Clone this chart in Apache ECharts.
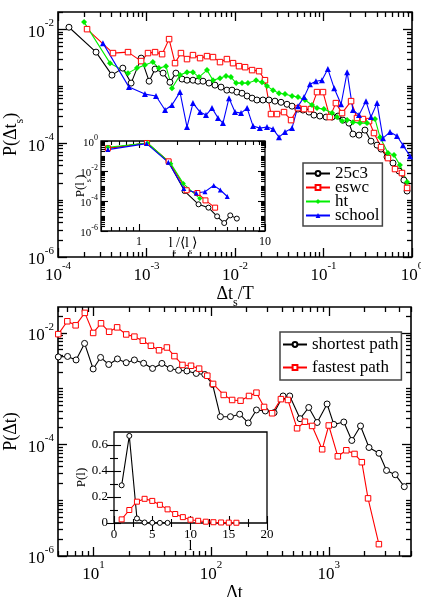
<!DOCTYPE html>
<html>
<head>
<meta charset="UTF-8">
<title>P(Δt)</title>
<script src="https://cdn.jsdelivr.net/npm/echarts@6/dist/echarts.min.js"></script>
<style>
  html, body { margin: 0; padding: 0; background: #fff; }
  #main { width: 421px; height: 597px; }
</style>
</head>
<body>
<div id="main"></div>
<script>
// ---- top panel: P(dt_s) against dt_s/T, pairs [x, y]
var c25c3 = [[1.33e-4,1.08e-2],[2.69e-4,3.95e-3],[4.07e-4,1.56e-3],[5.4e-4,2.07e-3],[6.7e-4,1.13e-3],[8.7e-4,3.1e-3],[1.07e-3,1.22e-3],[1.25e-3,1.99e-3],[1.54e-3,1.69e-3],[1.84e-3,1.17e-3],[2.15e-3,1.69e-3],[2.52e-3,1.33e-3],[2.87e-3,1.27e-3],[3.35e-3,1.27e-3],[3.82e-3,1.22e-3],[4.35e-3,1.22e-3],[5.08e-3,1.13e-3],[5.94e-3,1.04e-3],[6.95e-3,9.6e-4],[8.1e-3,8.5e-4],[9.25e-3,8.5e-4],[1.05e-2,7.85e-4],[1.2e-2,7.5e-4],[1.37e-2,6.7e-4],[1.56e-2,6.15e-4],[1.77e-2,5.7e-4],[2.07e-2,5.7e-4],[2.42e-2,5.7e-4],[2.83e-2,5.45e-4],[3.31e-2,5.2e-4],[3.87e-2,4.8e-4],[4.41e-2,4.45e-4],[5.15e-2,3.95e-4],[5.86e-2,3.8e-4],[6.86e-2,3.5e-4],[7.8e-2,3.1e-4],[9.1e-2,2.98e-4],[0.107,2.86e-4],[0.125,2.86e-4],[0.146,2.98e-4],[0.166,2.53e-4],[0.194,2.24e-4],[0.215,1.44e-4],[0.252,1.38e-4],[0.294,1.69e-4],[0.344,1.08e-4],[0.403,9.2e-5],[0.447,7.85e-5],[0.522,5.7e-5],[0.61,4.46e-5],[0.713,3.23e-5],[0.81,2.24e-5],[0.88,1.44e-5]];
var eswc = [[2.13e-4,1e-2],[4.18e-4,3.8e-3],[6.18e-4,3.95e-3],[8.7e-4,2.75e-3],[1.04e-3,3.8e-3],[1.25e-3,3.95e-3],[1.5e-3,3.64e-3],[1.8e-3,6.68e-3],[2.1e-3,2.53e-3],[2.45e-3,3.8e-3],[2.87e-3,2.98e-3],[3.35e-3,3.5e-3],[4.03e-3,3.1e-3],[4.83e-3,3.36e-3],[5.64e-3,3.23e-3],[6.77e-3,2.64e-3],[8.1e-3,2.98e-3],[9.5e-3,2.53e-3],[1.11e-2,2.24e-3],[1.3e-2,2.15e-3],[1.56e-2,1.91e-3],[1.87e-2,1.83e-3],[2.18e-2,1.27e-3],[2.55e-2,3.23e-4],[2.98e-2,3.23e-4],[3.58e-2,3.5e-4],[4.3e-2,2.53e-4],[5.15e-2,4.11e-4],[6.03e-2,3.95e-4],[7.2e-2,3.95e-4],[8.45e-2,7.85e-4],[9.87e-2,7.85e-4],[0.118,2.86e-4],[0.138,5.03e-4],[0.162,3.36e-4],[0.205,5.45e-4],[0.239,2.75e-4],[0.279,2.64e-4],[0.327,2.43e-4],[0.372,1.5e-4],[0.447,8.5e-5],[0.535,5.45e-5],[0.643,3.5e-5],[0.77,2.98e-5],[0.88,1.63e-5]];
var ht = [[1.97e-4,1.33e-2],[3.87e-4,2.53e-3],[6.18e-4,1.69e-3],[7.8e-4,2.07e-3],[9.6e-4,2.34e-3],[1.18e-3,2.64e-3],[1.38e-3,2.07e-3],[1.66e-3,2.24e-3],[1.94e-3,9.2e-4],[2.39e-3,1.56e-3],[2.87e-3,1.76e-3],[3.35e-3,1.76e-3],[3.92e-3,1.44e-3],[4.83e-3,1.91e-3],[5.64e-3,1.27e-3],[6.77e-3,1.38e-3],[7.91e-3,1.5e-3],[9.0e-3,1.44e-3],[1.03e-2,1.13e-3],[1.2e-2,1.13e-3],[1.4e-2,1.13e-3],[1.73e-2,1.27e-3],[2.02e-2,1.17e-3],[2.3e-2,1.0e-3],[2.69e-2,8.5e-4],[3.14e-2,7.5e-4],[3.67e-2,7.24e-4],[4.41e-2,6.7e-4],[5.15e-2,6.41e-4],[6.18e-2,5.7e-4],[7.41e-2,4.65e-4],[8.45e-2,4.11e-4],[0.101,3.95e-4],[0.125,3.36e-4],[0.142,2.86e-4],[0.162,2.43e-4],[0.185,2.53e-4],[0.215,2.33e-4],[0.258,2.24e-4],[0.31,2.24e-4],[0.382,2.64e-4],[0.435,1.27e-4],[0.535,6.68e-5],[0.626,6.15e-5],[0.731,4.11e-5],[0.88,2.07e-5]];
var school = [[3.22e-4,5.68e-3],[6.34e-4,9.6e-4],[9.6e-4,7.24e-4],[1.28e-3,6.7e-4],[1.62e-3,3.8e-4],[1.94e-3,4.65e-4],[2.39e-3,7.85e-4],[2.87e-3,1.91e-4],[3.35e-3,5.03e-4],[4.03e-3,3.5e-4],[4.7e-3,3.1e-4],[5.5e-3,4.11e-4],[6.43e-3,2.75e-4],[7.31e-3,2.24e-4],[8.55e-3,6.15e-4],[1.0e-2,3.5e-4],[1.17e-2,3.36e-4],[1.37e-2,4.11e-4],[1.6e-2,1.99e-4],[1.91e-2,1.83e-4],[2.3e-2,1.91e-4],[2.69e-2,1.76e-4],[3.14e-2,1.27e-4],[3.67e-2,1.56e-4],[4.41e-2,1.83e-4],[5.15e-2,4.45e-4],[6.03e-2,6.41e-4],[7.03e-2,1.08e-3],[8.22e-2,1.22e-3],[9.6e-2,1.27e-3],[0.112,1.99e-3],[0.132,9.2e-4],[0.158,4.8e-4],[0.185,1.76e-3],[0.215,3.8e-4],[0.252,3.1e-4],[0.302,5.45e-4],[0.344,2.86e-4],[0.403,5.03e-4],[0.47,1.22e-4],[0.564,1.56e-4],[0.677,1.33e-4],[0.79,9.2e-5],[0.95,5.9e-5]];

// top inset: P(l_s) against l_s/<l_s>
var in25c3 = [[0.567,0.326],[1.16,0.736],[1.72,0.04],[2.3,4.6e-4],[2.97,6.0e-5],[3.56,3.6e-5],[4.17,9.5e-6],[4.75,3.4e-6],[5.3,1.1e-5],[5.98,6.7e-6]];
var inEswc = [[0.567,0.326],[1.16,0.736],[1.72,0.044],[2.39,5.2e-4],[2.91,3.4e-4],[3.37,1.1e-4],[4.02,3.6e-5]];
var inHt = [[0.567,0.38],[1.17,0.736],[1.79,0.031],[2.25,1.45e-3],[3.04,1.45e-4]];
var inSchool = [[0.567,0.267],[1.15,0.67],[1.71,0.038],[2.27,6.7e-4],[2.85,3.4e-4],[3.34,4.1e-4],[3.92,1.1e-3],[4.42,5.4e-4],[5.02,2.0e-4]];

// ---- bottom panel: P(dt) against dt
var shortDt = [5.03,6.03,7.12,8.41,9.95,11.5,13.5,16.0,19.0,22.3,26.7,31.8,38.2,45.0,52.9,62.3,74.8,88.4,103,120,146,175,207,243,289,343,409,466,571,676,797,968,1104,1343,1570,1862,2198,2673,3097,3673,4385];
var shortP = [3.72e-3,3.79e-3,3.28e-3,6.49e-3,2.26e-3,3.64e-3,2.72e-3,3.42e-3,2.93e-3,3.28e-3,2.86e-3,2.31e-3,2.84e-3,2.31e-3,2.14e-3,2.08e-3,1.88e-3,1.8e-3,1.19e-3,3.15e-4,3.15e-4,3.49e-4,2.43e-4,4.16e-4,3.99e-4,3.72e-4,7.41e-4,7.41e-4,2.9e-4,4.61e-4,2.48e-4,5.32e-4,2.29e-4,2.53e-4,1.18e-4,2.15e-4,8.83e-5,6.95e-5,3.42e-5,2.87e-5,1.75e-5];
var fastDt = [5.03,6.0,7.06,8.45,9.95,11.6,13.6,15.9,19.0,22.3,26.3,30.8,36.1,42.1,48.8,57.1,67.5,79.1,92.9,104,128,151,178,210,243,282,330,392,450,538,627,722,879,1000,1194,1410,1656,1910,2157,2667];
var fastP = [9.52e-3,1.62e-2,1.37e-2,2.29e-2,1.0e-2,1.49e-2,1.05e-2,1.26e-2,9.4e-3,8.59e-3,7.25e-3,5.89e-3,4.89e-3,5.49e-3,3.84e-3,2.67e-3,2.58e-3,2.29e-3,1.71e-3,1.22e-3,7.73e-4,6.28e-4,6.1e-4,7.41e-4,8.49e-4,4.71e-4,3.63e-4,6.5e-4,6.28e-4,1.95e-4,2.56e-4,2.15e-4,8.2e-5,2.19e-4,6.14e-5,7.87e-5,6.76e-5,4.81e-5,1.08e-5,1.63e-6];

// bottom inset: P(l) against l
var shortL = [1,2,3,4,5,6,7];
var shortPl = [0.29,0.67,0.035,0.004,0.002,0.001,0.001];
var fastL = [1,2,3,4,5,6,7,8,9,10,11,12,13,14,15,16];
var fastPl = [0.028,0.1,0.164,0.186,0.17,0.14,0.105,0.069,0.045,0.025,0.017,0.01,0.006,0.004,0.003,0.002];

// tick labels
var topXTicks = [1e-4,1e-3,1e-2,1e-1,1];
var topYTicks = [1e-6,1e-4,1e-2];
var inTopXTicks = [1,10];
var inTopYTicks = [1e-6,1e-4,1e-2,1];
var botXTicks = [10,100,1000];
var botYTicks = [1e-6,1e-4,1e-2];
var inBotXTicks = [0,5,10,15,20];
var inBotYTicks = [0,0.2,0.4,0.6];

var SERIF = 'Liberation Serif';

function zip(xs, ys) {
    return xs.map(function (x, i) { return [x, ys[i]]; });
}

// 2..9 x 10^n ticks between min and max, skipping the major ones
function logMinor(min, max, majors) {
    var out = [];
    for (var e = Math.floor(Math.log10(min)); e <= Math.ceil(Math.log10(max)); e++) {
        for (var k = 1; k < 10; k++) {
            var v = k * Math.pow(10, e);
            var isMajor = majors.some(function (m) { return Math.abs(m - v) / m < 1e-6; });
            if (v >= min * 0.9999 && v <= max * 1.0001 && !isMajor) out.push(v);
        }
    }
    return out;
}

function richPow(big, small, raise) {
    return {
        formatter: function (v) {
            return '{b|10}{s|' + Math.round(Math.log10(v)) + '}';
        },
        rich: {
            b: { fontSize: big, fontFamily: SERIF, color: '#000', lineHeight: big + raise, verticalAlign: 'bottom' },
            s: { fontSize: small, fontFamily: SERIF, color: '#000', lineHeight: small, verticalAlign: 'top' }
        }
    };
}

function nameStyle(size) {
    return {
        rich: {
            n: { fontSize: size, fontFamily: SERIF, color: '#000', lineHeight: size + 6, verticalAlign: 'top' },
            sub: { fontSize: Math.round(size * 0.65), fontFamily: SERIF, color: '#000', lineHeight: 10, verticalAlign: 'bottom' }
        }
    };
}

// four axes per dimension: labelled + minor on one side, mirrored ticks on the other
function axisSet(dim, gi, base, major, minor, lens, tw, label) {
    var sides = dim === 'x' ? ['bottom', 'top'] : ['left', 'right'];
    var list = [];
    sides.forEach(function (pos, si) {
        [[major, lens[0]], [minor, lens[1]]].forEach(function (t, ti) {
            var ax = Object.assign({}, base, {
                gridIndex: gi,
                position: pos,
                axisLine: { show: false },
                splitLine: { show: false },
                minorTick: { show: false },
                axisTick: { show: true, inside: true, length: t[1], customValues: t[0], lineStyle: { color: '#000', width: tw } },
                axisLabel: { show: false }
            });
            if (si === 0 && ti === 0 && label) ax.axisLabel = label;
            list.push(ax);
        });
    });
    return list;
}

var grids = [
    { left: 58, top: 12, width: 354, height: 245 },
    { left: 101, top: 141, width: 164, height: 90 },
    { left: 58, top: 307, width: 353, height: 249 },
    { left: 114, top: 432, width: 153, height: 91 }
].map(function (g) {
    return Object.assign(g, { show: true, borderColor: '#000', borderWidth: 1.6, backgroundColor: '#fff', containLabel: false, outerBoundsMode: 'none' });
});
grids[1].borderWidth = 1.3;
grids[3].borderWidth = 1.3;

// axis ranges
var topX = { type: 'log', logBase: 10, min: 1e-4, max: 1 };
var topY = { type: 'log', logBase: 10, min: 1e-6, max: 0.02 };
var inTopX = { type: 'log', logBase: 10, min: 0.5, max: 10 };
var inTopY = { type: 'log', logBase: 10, min: 1e-6, max: 1 };
var botX = { type: 'log', logBase: 10, min: 5, max: 5000 };
var botY = { type: 'log', logBase: 10, min: 1e-6, max: 0.0292 };
var inBotX = { type: 'value', min: 0, max: 20 };
var inBotY = { type: 'value', min: 0, max: 0.7 };

var mainLab = function (ticks) {
    return Object.assign({ show: true, customValues: ticks, margin: 4 }, richPow(17, 11, 6));
};
var insetPowLab = Object.assign({ show: true, customValues: inTopYTicks, margin: 3 }, richPow(11, 8, 4));
var plainLab = function (ticks, size, m) {
    return { show: true, customValues: ticks, margin: m, fontSize: size, fontFamily: SERIF, color: '#000' };
};

var xAxes = [].concat(
    axisSet('x', 0, topX, topXTicks, logMinor(1e-4, 1, topXTicks), [9, 5], 1.3, mainLab(topXTicks)),
    axisSet('x', 1, inTopX, inTopXTicks, logMinor(0.5, 10, inTopXTicks), [7, 4], 1.1, plainLab(inTopXTicks, 12, 5)),
    axisSet('x', 2, botX, botXTicks, logMinor(5, 5000, botXTicks), [9, 5], 1.3, mainLab(botXTicks)),
    axisSet('x', 3, inBotX, inBotXTicks, [2.5, 7.5, 12.5, 17.5], [7, 4], 1.1, plainLab(inBotXTicks, 13, 5))
);
var yAxes = [].concat(
    axisSet('y', 0, topY, topYTicks, logMinor(1e-6, 0.02, topYTicks), [9, 5], 1.3, mainLab(topYTicks)),
    axisSet('y', 1, inTopY, inTopYTicks, logMinor(1e-6, 1, inTopYTicks), [7, 4], 1.1, insetPowLab),
    axisSet('y', 2, botY, botYTicks, logMinor(1e-6, 0.0292, botYTicks), [9, 5], 1.3, mainLab(botYTicks)),
    axisSet('y', 3, inBotY, inBotYTicks, [0.1, 0.3, 0.5], [7, 4], 1.1, plainLab(inBotYTicks, 13, 6))
);

// axis titles; fixed gaps from the axis line, no automatic moving
function setName(ax, text, gap, size, rotate, fixed) {
    ax.name = text;
    ax.nameLocation = 'middle';
    ax.nameGap = gap;
    ax.nameTextStyle = nameStyle(size);
    if (rotate) ax.nameRotate = 90;
    if (fixed) ax.nameMoveOverlap = false;
}
setName(xAxes[0], '{n|Δt}{sub|s}{n|/T}', 28, 18);
setName(yAxes[0], '{n|P(Δt}{sub|s}{n|)}', 32, 18, true, true);
setName(xAxes[4], '{n|l}{sub|s}{n|/⟨l}{sub|s}{n|⟩}', 5, 14, false, true);
setName(yAxes[4], '{n|P(l}{sub|s}{n|)}', 8, 13, true, true);
setName(xAxes[8], '{n|Δt}', 27, 18);
setName(yAxes[8], '{n|P(Δt)}', 32, 18, true, true);
setName(xAxes[12], '{n|l}', 16, 14, false, true);
setName(yAxes[12], '{n|P(l)}', 20, 13, true, true);

// open symbols are drawn as white-filled shapes so the outline width can be set
function line(name, data, gi, color, symbol, size, open) {
    return {
        name: name,
        type: 'line',
        xAxisIndex: gi * 4,
        yAxisIndex: gi * 4,
        data: data,
        symbol: symbol,
        symbolSize: size,
        showSymbol: true,
        animation: false,
        color: color,
        lineStyle: { color: color, width: 1.1 },
        itemStyle: open
            ? { color: '#fff', borderColor: color, borderWidth: 1 }
            : { color: color, borderWidth: 0 }
    };
}

var chart = echarts.init(document.getElementById('main'), null, { renderer: 'canvas' });
chart.setOption({
    animation: false,
    backgroundColor: '#fff',
    textStyle: { fontFamily: SERIF, color: '#000' },
    grid: grids,
    xAxis: xAxes,
    yAxis: yAxes,
    legend: [
        {
            data: ['25c3', 'eswc', 'ht', 'school'],
            orient: 'vertical', left: 303, top: 163,
            padding: [2, 3, 2, 2], itemGap: -3, itemWidth: 24, itemHeight: 6,
            selectedMode: false,
            backgroundColor: '#fff', borderColor: '#444', borderWidth: 1.5,
            textStyle: { fontFamily: SERIF, fontSize: 17, color: '#000' }
        },
        {
            data: ['shortest path', 'fastest path'],
            orient: 'vertical', left: 280, top: 332,
            padding: [4, 3, 4, 2], itemGap: 6, itemWidth: 24, itemHeight: 6,
            selectedMode: false,
            backgroundColor: '#fff', borderColor: '#444', borderWidth: 1.5,
            textStyle: { fontFamily: SERIF, fontSize: 17, color: '#000' }
        }
    ],
    series: [
        line('25c3', c25c3, 0, '#000000', 'circle', 6, true),
        line('eswc', eswc, 0, '#ff0000', 'rect', 5.5, true),
        line('ht', ht, 0, '#00ee00', 'diamond', 6, false),
        line('school', school, 0, '#0000ff', 'triangle', 6, false),
        line('25c3', in25c3, 1, '#000000', 'circle', 5, true),
        line('eswc', inEswc, 1, '#ff0000', 'rect', 5, true),
        line('ht', inHt, 1, '#00ee00', 'diamond', 5, false),
        line('school', inSchool, 1, '#0000ff', 'triangle', 5, false),
        line('shortest path', zip(shortDt, shortP), 2, '#000000', 'circle', 6, true),
        line('fastest path', zip(fastDt, fastP), 2, '#ff0000', 'rect', 5.5, true),
        line('shortest path', zip(shortL, shortPl), 3, '#000000', 'circle', 5, true),
        line('fastest path', zip(fastL, fastPl), 3, '#ff0000', 'rect', 5, true)
    ]
});
</script>
</body>
</html>
